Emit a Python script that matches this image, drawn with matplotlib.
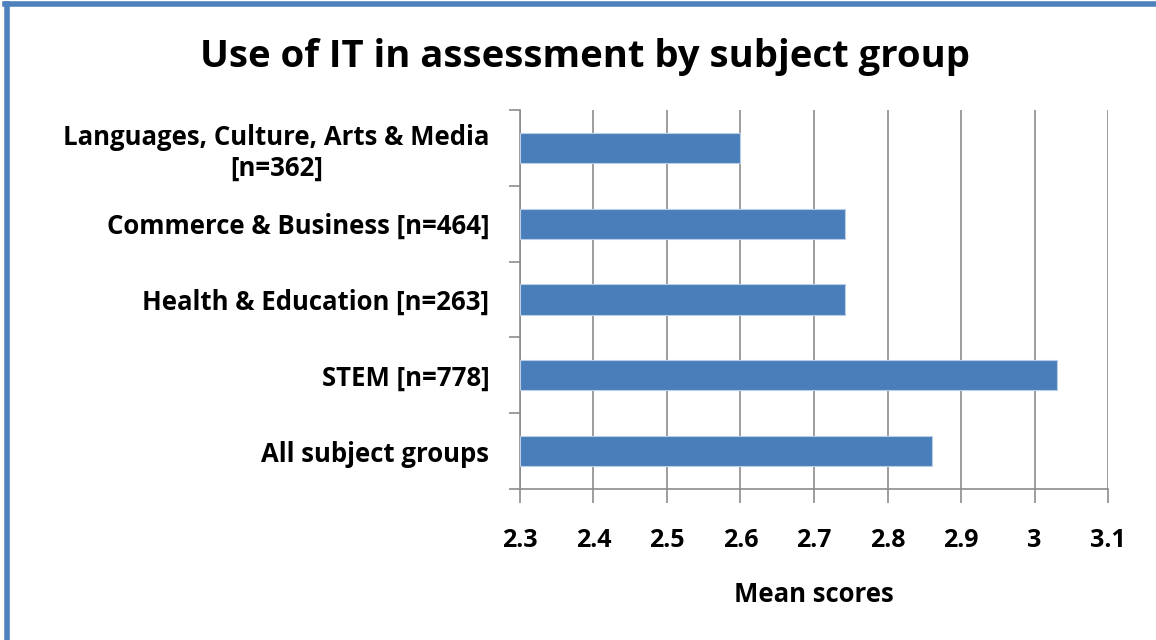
import matplotlib
matplotlib.use("Agg")
import matplotlib.pyplot as plt
from matplotlib.lines import Line2D

# data
groups = ["Languages, Culture, Arts & Media\n[n=362]",
          "Commerce & Business [n=464]",
          "Health & Education [n=263]",
          "STEM [n=778]",
          "All subject groups"]
means = [2.60, 2.742, 2.742, 3.031, 2.861]
xticks = [2.3, 2.4, 2.5, 2.6, 2.7, 2.8, 2.9, 3.0, 3.1]
xticklabels = ["2.3", "2.4", "2.5", "2.6", "2.7", "2.8", "2.9", "3", "3.1"]

plt.rcParams['font.family'] = ['Open Sans', 'DejaVu Sans']

fig = plt.figure(figsize=(11.56, 6.4), dpi=100)
ax = fig.add_axes([0.4498, 0.236, 0.5087, 0.592])

pos = list(range(len(groups)))[::-1]
ax.barh(pos, [m - 2.3 for m in means], left=2.3, height=0.4, color='#4a7ebb',
        edgecolor='#b9cde5', linewidth=0.8, zorder=3)

ax.set_xlim(2.3, 3.1)
ax.set_ylim(-0.5, len(groups) - 0.5)
ax.set_xticks(xticks)
ax.set_xticklabels(xticklabels, fontsize=18, fontweight='bold')
ax.tick_params(axis='x', length=10, width=1.2, color='#8c8c8c', pad=18)

# boundary ticks on y, labels at category centres
ax.set_yticks([p - 0.5 for p in range(len(groups) + 1)])
ax.set_yticklabels([])
ax.tick_params(axis='y', which='major', length=8, width=1.2, color='#8c8c8c')
ax.set_yticks(pos, minor=True)
ax.set_yticklabels(groups, minor=True, fontsize=18.5, fontweight='bold',
                   multialignment='center')
ax.tick_params(axis='y', which='minor', length=0, pad=22)

ax.grid(axis='x', color='#8c8c8c', linewidth=1.2, zorder=0)
for s in ['top', 'right']:
    ax.spines[s].set_visible(False)
for s in ['left', 'bottom']:
    ax.spines[s].set_color('#8c8c8c')
    ax.spines[s].set_linewidth(1.2)

ax.set_xlabel("Mean scores", fontsize=18.5, fontweight='bold', labelpad=20)

fig.text(0.506, 0.911, "Use of IT in assessment by subject group", ha='center',
         va='center', fontsize=27.5, fontweight='bold')

# blue frame on left and top
fig.add_artist(Line2D([0.006, 0.006], [0, 0.993], transform=fig.transFigure,
                      color='#4f81bd', linewidth=4))
fig.add_artist(Line2D([0.004, 1.0], [0.993, 0.993], transform=fig.transFigure,
                      color='#4f81bd', linewidth=4))

fig.savefig("out.png", dpi=100)
